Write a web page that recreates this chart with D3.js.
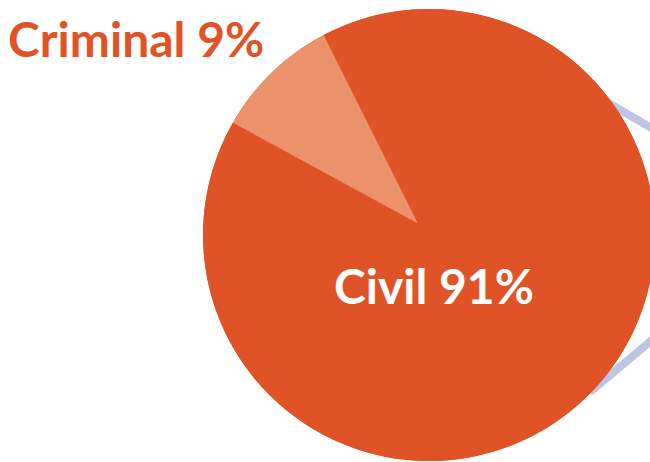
<!DOCTYPE html>
<html>
<head>
<meta charset="utf-8">
<script src="https://cdn.jsdelivr.net/npm/d3@7"></script>
<style>
  html, body { margin: 0; padding: 0; background: #ffffff; }
  svg { display: block; }
</style>
</head>
<body>
<script>
// Case split
const categories = ["Civil", "Criminal"];
const shares = [91, 9];
const sliceColors = ["#df5326", "#eb926b"];

const W = 650, H = 462;
const cx = 429, cy = 235, R = 226;
const startDeg = -27.8;      // where the Civil slice begins, clockwise from 12 o'clock
const insetDist = 16;        // the light slice's tip sits this far out from the centre

const svg = d3.select("body").append("svg")
  .attr("width", W).attr("height", H);

// connector lines leading off to the right, starting at the pie's rim
const connectors = [
  [[605, 101], [720, 168]],
  [[590, 392], [720, 283]]
];
svg.append("g").selectAll("line")
  .data(connectors)
  .join("line")
  .attr("x1", d => d[0][0]).attr("y1", d => d[0][1])
  .attr("x2", d => d[1][0]).attr("y2", d => d[1][1])
  .attr("stroke", "#bcc5e1")
  .attr("stroke-width", 8);

const data = categories.map((c, i) => ({ name: c, value: shares[i], color: sliceColors[i] }));

const pie = d3.pie()
  .sort(null)
  .value(d => d.value)
  .startAngle(startDeg * Math.PI / 180)
  .endAngle(startDeg * Math.PI / 180 + 2 * Math.PI);

const arcs = pie(data);
const arc = d3.arc().innerRadius(0).outerRadius(R);

// wedge whose tip is pushed out along its bisector; the outer arc stays on the rim
function insetWedge(d) {
  const mid = (d.startAngle + d.endAngle) / 2;
  const p = d3.path();
  p.moveTo(insetDist * Math.sin(mid), -insetDist * Math.cos(mid));
  p.lineTo(R * Math.sin(d.startAngle), -R * Math.cos(d.startAngle));
  p.arc(0, 0, R, d.startAngle - Math.PI / 2, d.endAngle - Math.PI / 2, false);
  p.closePath();
  return p.toString();
}

const g = svg.append("g").attr("transform", `translate(${cx},${cy})`);

// base disc in the Civil colour under the inset slice
g.append("circle").attr("r", R).attr("fill", sliceColors[0]);

g.selectAll("path")
  .data(arcs)
  .join("path")
  .attr("fill", d => d.data.color)
  .attr("d", (d, i) => i === 0 ? arc(d) : insetWedge(d));

// labels
svg.append("text")
  .attr("x", 8).attr("y", 57)
  .attr("font-family", "Lato, 'Open Sans', sans-serif")
  .attr("font-weight", 700)
  .attr("font-size", 48)
  .attr("fill", sliceColors[0])
  .text(`${data[1].name} ${data[1].value}%`);

svg.append("text")
  .attr("x", 434).attr("y", 304)
  .attr("text-anchor", "middle")
  .attr("font-family", "Lato, 'Open Sans', sans-serif")
  .attr("font-weight", 700)
  .attr("font-size", 48)
  .attr("fill", "#ffffff")
  .text(`${data[0].name} ${data[0].value}%`);
</script>
</body>
</html>
